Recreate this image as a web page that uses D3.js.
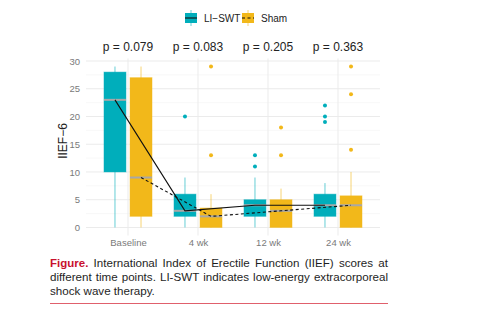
<!DOCTYPE html>
<html><head><meta charset="utf-8">
<script src="https://cdn.jsdelivr.net/npm/d3@7"></script>
<style>body{margin:0;background:#fff}svg{display:block}</style>
</head><body>
<svg id="c" width="494" height="334"></svg>
<script>
const categories = ["Baseline", "4 wk", "12 wk", "24 wk"];
const groups = ["LI\u2212SWT", "Sham"];
const colors = ["#00AEBB", "#F2B81A"];
const pValues = ["p = 0.079", "p = 0.083", "p = 0.205", "p = 0.363"];
const yTicks = [0, 5, 10, 15, 20, 25, 30];
// LI-SWT box stats per time point
const swtLow = [0, 0, 0, 0];
const swtQ1 = [10, 2, 2, 2];
const swtMedian = [23, 3, 4, 4];
const swtQ3 = [28, 6, 5, 6];
const swtHigh = [29, 9, 9, 8];
const swtOutliers = [[], [20], [11, 13], [19, 20, 22]];
// Sham box stats per time point
const shamLow = [0, 0, 0, 0];
const shamQ1 = [2, 0, 0, 0];
const shamMedian = [9, 2, 3, 4];
const shamQ3 = [27, 3.5, 5, 5.7];
const shamHigh = [29, 6, 7, 10];
const shamOutliers = [[], [13, 29], [13, 18], [14, 24, 29]];
const captionLines = [
  "International Index of Erectile Function (IIEF) scores at",
  "different time points. LI-SWT indicates low-energy extracorporeal",
  "shock wave therapy."
];

const svg = d3.select("#c");
const font = "'Liberation Sans', Arial, sans-serif";
const pl = 86, pr = 380, pt = 58.5, pb = 235.5;
const x = d3.scalePoint().domain(categories).range([pl, pr]).padding(0.6);
const y = d3.scaleLinear().domain([-1.45, 30.45]).range([pb, pt]);
const step = x.step();
const dodge = 0.186 * step, bw = 0.314 * step;

const series = [
  {name: groups[0], color: colors[0], off: -dodge, lo: swtLow, q1: swtQ1, md: swtMedian, q3: swtQ3, hi: swtHigh, out: swtOutliers, dash: null},
  {name: groups[1], color: colors[1], off: dodge, lo: shamLow, q1: shamQ1, md: shamMedian, q3: shamQ3, hi: shamHigh, out: shamOutliers, dash: "3,2.5"}
];

// grid
const g = svg.append("g");
d3.range(2.5, 30, 5).forEach(v => g.append("line").attr("x1", pl).attr("x2", pr).attr("y1", y(v)).attr("y2", y(v)).attr("stroke", "#F3F3F3").attr("stroke-width", 0.6));
yTicks.forEach(v => g.append("line").attr("x1", pl).attr("x2", pr).attr("y1", y(v)).attr("y2", y(v)).attr("stroke", "#EBEBEB").attr("stroke-width", 1));
categories.forEach(c => g.append("line").attr("x1", x(c)).attr("x2", x(c)).attr("y1", pt).attr("y2", pb).attr("stroke", "#EBEBEB").attr("stroke-width", 1));

// axes
const ya = svg.append("g").attr("transform", `translate(${pl},0)`).call(d3.axisLeft(y).tickValues(yTicks).tickSize(0).tickPadding(6));
ya.select(".domain").remove();
ya.selectAll("text").attr("fill", "#7A7A7A").style("font-family", font).style("font-size", "9.5px");
const xa = svg.append("g").attr("transform", `translate(0,${pb})`).call(d3.axisBottom(x).tickSize(0).tickPadding(4));
xa.select(".domain").remove();
xa.selectAll("text").attr("fill", "#7A7A7A").style("font-family", font).style("font-size", "9.5px");

svg.append("text").attr("transform", `translate(67,141) rotate(-90)`).attr("text-anchor", "middle")
  .style("font-family", font).style("font-size", "12px").attr("fill", "#222").text("IIEF\u22126");

// boxes
series.forEach(s => {
  const sg = svg.append("g");
  categories.forEach((c, i) => {
    const cx = x(c) + s.off;
    sg.append("line").attr("x1", cx).attr("x2", cx).attr("y1", y(s.lo[i])).attr("y2", y(s.hi[i]))
      .attr("stroke", s.color).attr("stroke-opacity", 0.6).attr("stroke-width", 1);
    sg.append("rect").attr("x", cx - bw / 2).attr("width", bw).attr("y", y(s.q3[i])).attr("height", y(s.q1[i]) - y(s.q3[i]))
      .attr("fill", s.color).attr("stroke", s.color).attr("stroke-opacity", 0.45).attr("stroke-width", 1);
    sg.append("line").attr("x1", cx - bw / 2).attr("x2", cx + bw / 2).attr("y1", y(s.md[i])).attr("y2", y(s.md[i]))
      .attr("stroke", "#A8A8A8").attr("stroke-width", 2);
    s.out[i].forEach(v => sg.append("circle").attr("cx", cx).attr("cy", y(v)).attr("r", 2).attr("fill", s.color));
  });
});

// median trend lines
series.forEach(s => {
  const line = d3.line().x((d, i) => x(categories[i]) + s.off).y(d => y(d));
  svg.append("path").attr("d", line(s.md)).attr("fill", "none").attr("stroke", "#111").attr("stroke-width", 1.1)
    .attr("stroke-dasharray", s.dash);
});

// p-values
pValues.forEach((p, i) => svg.append("text").attr("x", x(categories[i])).attr("y", 51).attr("text-anchor", "middle")
  .style("font-family", font).style("font-size", "12px").attr("fill", "#222").text(p));

// legend
const lg = svg.append("g");
const lx = [185, 242];
series.forEach((s, i) => {
  const k = lg.append("g").attr("transform", `translate(${lx[i]},18)`);
  k.append("line").attr("x1", 6).attr("x2", 6).attr("y1", -8).attr("y2", 8).attr("stroke", s.color).attr("stroke-opacity", 0.6);
  k.append("rect").attr("x", 0).attr("y", -5).attr("width", 12).attr("height", 10).attr("fill", s.color);
  k.append("line").attr("x1", 0).attr("x2", 12).attr("y1", 0).attr("y2", 0).attr("stroke", "#111").attr("stroke-width", 1.1).attr("stroke-dasharray", s.dash);
  k.append("text").attr("x", 19).attr("y", 4).style("font-family", font).style("font-size", "10px").attr("fill", "#222").text(s.name);
});

// caption, justified
const capL = 50, capR = 388, capSize = 11.6;
const baselines = [267, 281, 295];
function measure(txt, bold) {
  const t = svg.append("text").style("font-family", font).style("font-size", (bold ? 11.5 : capSize) + "px").style("font-weight", bold ? "bold" : "normal").text(txt);
  const w = t.node().getComputedTextLength(); t.remove(); return w;
}
captionLines.forEach((ln, li) => {
  let words = ln.split(" ").map(w => ({t: w, bold: false}));
  if (li === 0) words.unshift({t: "Figure.", bold: true});
  const widths = words.map(w => measure(w.t, w.bold));
  const total = d3.sum(widths);
  const space = measure("a a", false) - measure("aa", false);
  const gap = li < captionLines.length - 1 ? Math.max(1.5, (capR - capL - total) / (words.length - 1)) : space;
  let cx = capL;
  words.forEach((w, i) => {
    svg.append("text").attr("x", cx).attr("y", baselines[li]).style("font-family", font).style("font-size", (w.bold ? 11.5 : capSize) + "px")
      .style("font-weight", w.bold ? "bold" : "normal").attr("fill", w.bold ? "#C8102E" : "#1E1E1E").text(w.t);
    cx += widths[i] + gap;
  });
});
svg.append("line").attr("x1", capL).attr("x2", capR).attr("y1", 303.5).attr("y2", 303.5).attr("stroke", "#E0606C").attr("stroke-width", 1);
</script>
</body></html>
